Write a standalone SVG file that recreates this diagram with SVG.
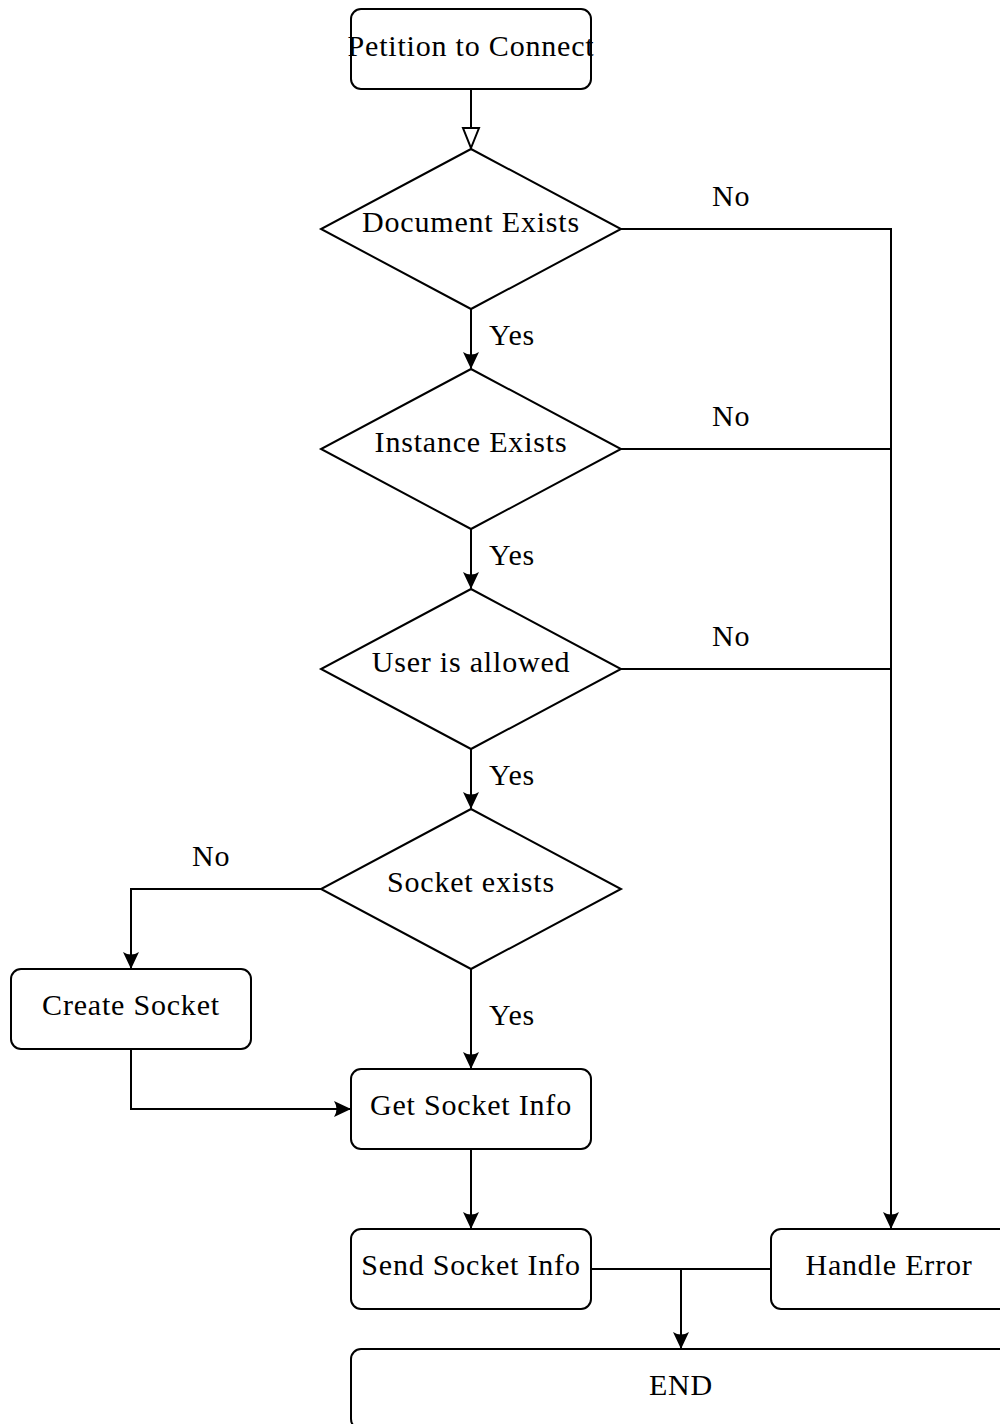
<svg xmlns="http://www.w3.org/2000/svg" width="1000" height="1424" viewBox="0 0 1000 1424">
<style>
.n{fill:#fff;stroke:#000;stroke-width:2}
.t{font-size:30px;letter-spacing:0.8px;fill:#000;text-anchor:middle}
.l{font-size:30px;letter-spacing:0.8px;fill:#000}
.c{fill:none;stroke:#000;stroke-width:2}
</style>
<defs>
<marker id="a" markerUnits="userSpaceOnUse" markerWidth="20" markerHeight="20" viewBox="-18 -10 20 20" refX="0" refY="0" orient="auto">
<path d="M1,0 L-16,-8 Q-11,0 -16,8 Z" fill="#000"/>
</marker>
<marker id="h" markerUnits="userSpaceOnUse" markerWidth="26" markerHeight="22" viewBox="-23 -11 26 22" refX="0" refY="0" orient="auto">
<path d="M0,0 L-20,-8 L-20,8 Z" fill="#fff" stroke="#000" stroke-width="2"/>
</marker>
</defs>
<g id="connectors" font-family="'Liberation Serif', 'DejaVu Serif', serif">
<path class="c" d="M471,89 V148" marker-end="url(#h)"/>
<path class="c" d="M471,309 V368" marker-end="url(#a)"/>
<path class="c" d="M471,529 V588" marker-end="url(#a)"/>
<path class="c" d="M471,749 V808" marker-end="url(#a)"/>
<path class="c" d="M471,969 V1068" marker-end="url(#a)"/>
<path class="c" d="M621,229 H891 V1228" marker-end="url(#a)"/>
<path class="c" d="M621,449 H891"/>
<path class="c" d="M621,669 H891"/>
<path class="c" d="M321,889 H131 V968" marker-end="url(#a)"/>
<path class="c" d="M131,1049 V1109 H350" marker-end="url(#a)"/>
<path class="c" d="M471,1149 V1228" marker-end="url(#a)"/>
<path class="c" d="M591,1269 H681 V1348" marker-end="url(#a)"/>
<path class="c" d="M771,1269 H681"/>
<text class="l" x="489" y="345">Yes</text>
<text class="l" x="489" y="565">Yes</text>
<text class="l" x="489" y="785">Yes</text>
<text class="l" x="489" y="1025">Yes</text>
<text class="l" x="712" y="206">No</text>
<text class="l" x="712" y="426">No</text>
<text class="l" x="712" y="646">No</text>
<text class="l" x="192" y="866">No</text>
</g>
<g font-family="'Liberation Serif', 'DejaVu Serif', serif">
<g id="petition"><rect class="n" x="351" y="9" width="240" height="80" rx="10"/><text class="t" x="471" y="56">Petition to Connect</text></g>
<g id="document-exists"><polygon class="n" points="471,149 621,229 471,309 321,229"/><text class="t" x="471" y="232">Document Exists</text></g>
<g id="instance-exists"><polygon class="n" points="471,369 621,449 471,529 321,449"/><text class="t" x="471" y="452">Instance Exists</text></g>
<g id="user-allowed"><polygon class="n" points="471,589 621,669 471,749 321,669"/><text class="t" x="471" y="672">User is allowed</text></g>
<g id="socket-exists"><polygon class="n" points="471,809 621,889 471,969 321,889"/><text class="t" x="471" y="892">Socket exists</text></g>
<g id="create-socket"><rect class="n" x="11" y="969" width="240" height="80" rx="10"/><text class="t" x="131" y="1015">Create Socket</text></g>
<g id="get-socket-info"><rect class="n" x="351" y="1069" width="240" height="80" rx="10"/><text class="t" x="471" y="1115">Get Socket Info</text></g>
<g id="send-socket-info"><rect class="n" x="351" y="1229" width="240" height="80" rx="10"/><text class="t" x="471" y="1275">Send Socket Info</text></g>
<g id="handle-error"><rect class="n" x="771" y="1229" width="240" height="80" rx="10"/><text class="t" x="889" y="1275">Handle Error</text></g>
<g id="end"><rect class="n" x="351" y="1349" width="660" height="80" rx="10"/><text class="t" x="681" y="1395">END</text></g>
</g>
</svg>
